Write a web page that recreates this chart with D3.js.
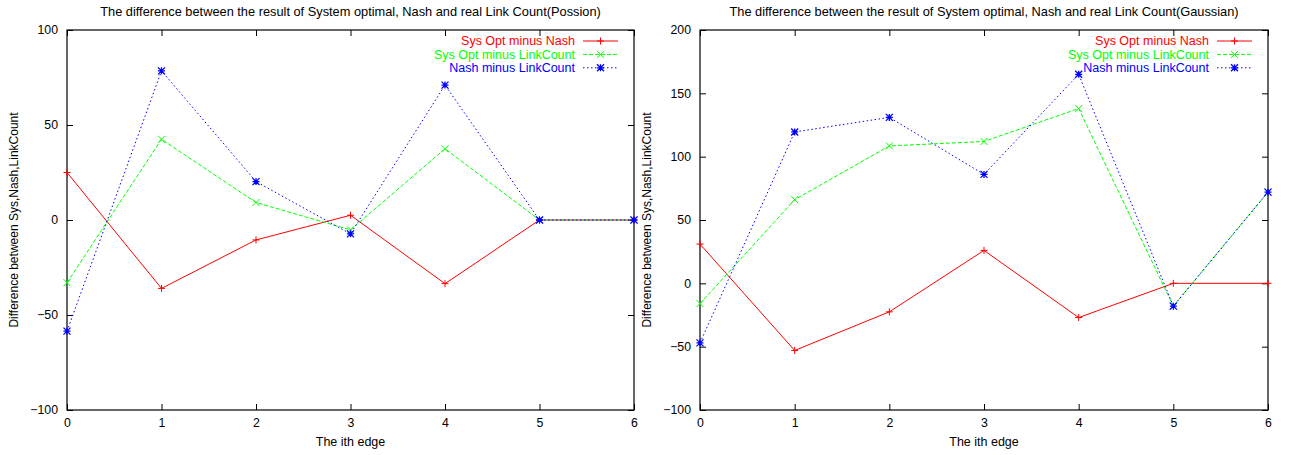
<!DOCTYPE html>
<html>
<head>
<meta charset="utf-8">
<script src="https://cdn.jsdelivr.net/npm/d3@7"></script>
<style>
  body { margin: 0; background: #fff; }
  svg { display: block; font-family: "Liberation Sans", Arial, sans-serif; }
</style>
</head>
<body>
<svg width="1293" height="455"></svg>
<script>
const edges = [0, 1, 2, 3, 4, 5, 6]
const seriesNames = ["Sys Opt minus Nash", "Sys Opt minus LinkCount", "Nash minus LinkCount"]

// Possion
const poisSysNash = [25, -36, -10.5, 2.5, -33.5, 0, 0]
const poisSysLink = [-33, 42.5, 9.2, -5.2, 37.5, 0, 0]
const poisNashLink = [-58.5, 78.5, 20.2, -7.3, 71, 0, 0]

// Gaussian
const gaussSysNash = [31, -53, -22.5, 26, -27, 0, 0]
const gaussSysLink = [-16, 66, 108.5, 112, 138, -18, 72]
const gaussNashLink = [-47, 119.5, 131, 86, 165, -18, 72]

const poisTicks = [-100, -50, 0, 50, 100]
const gaussTicks = [-100, -50, 0, 50, 100, 150, 200]

const styles = [
  { color: "#ff0000", dash: null, marker: "plus" },
  { color: "#00ff00", dash: "4,2", marker: "cross" },
  { color: "#0000ff", dash: "1.5,2.5", marker: "star" },
]

const svg = d3.select("svg")

function marker(g, kind, x, y, color) {
  const s = 3.5
  const p = d3.path()
  if (kind === "plus" || kind === "star") {
    p.moveTo(x - s, y); p.lineTo(x + s, y)
    p.moveTo(x, y - s); p.lineTo(x, y + s)
  }
  if (kind === "cross" || kind === "star") {
    p.moveTo(x - s, y - s); p.lineTo(x + s, y + s)
    p.moveTo(x - s, y + s); p.lineTo(x + s, y - s)
  }
  g.append("path").attr("d", p.toString())
    .attr("stroke", color).attr("stroke-width", kind === "star" ? 1.3 : 1).attr("fill", "none")
}

function drawPanel(opts) {
  const { left, right, top, bottom, yDomain, yTicks, series, title } = opts
  const g = svg.append("g")

  const x = d3.scaleLinear().domain([0, 6]).range([left, right])
  const y = d3.scaleLinear().domain(yDomain).range([bottom, top])

  // ticks inward, mirrored
  const yAxis = g.append("g").attr("transform", `translate(${left},0)`)
    .call(d3.axisLeft(y).tickValues(yTicks).tickSize(-6).tickPadding(9).tickFormat(d3.format("d")))
  const yAxisR = g.append("g").attr("transform", `translate(${right},0)`)
    .call(d3.axisRight(y).tickValues(yTicks).tickSize(-6).tickFormat(""))
  const xAxis = g.append("g").attr("transform", `translate(0,${bottom})`)
    .call(d3.axisBottom(x).tickValues(edges).tickSize(-6).tickPadding(8).tickFormat(d3.format("d")))
  const xAxisT = g.append("g").attr("transform", `translate(0,${top})`)
    .call(d3.axisTop(x).tickValues(edges).tickSize(-6).tickFormat(""))

  ;[yAxis, yAxisR, xAxis, xAxisT].forEach(a => {
    a.select(".domain").remove()
    a.selectAll("line").attr("stroke", "#000")
    a.selectAll("text").attr("font-size", 12.3).attr("fill", "#000")
      .attr("font-family", "Liberation Sans, Arial, sans-serif")
  })

  g.append("rect")
    .attr("x", left).attr("y", top)
    .attr("width", right - left).attr("height", bottom - top)
    .attr("fill", "none").attr("stroke", "#000").attr("stroke-width", 1.2)

  const line = d3.line().x((d, i) => x(edges[i])).y(d => y(d))

  series.forEach((vals, k) => {
    const st = styles[k]
    g.append("path").datum(vals)
      .attr("d", line)
      .attr("fill", "none")
      .attr("stroke", st.color)
      .attr("stroke-width", 1)
      .attr("stroke-dasharray", st.dash)
    vals.forEach((v, i) => marker(g, st.marker, x(edges[i]), y(v), st.color))
  })

  // legend
  const legX = right - 59
  seriesNames.forEach((name, k) => {
    const st = styles[k]
    const ly = top + 11 + k * 13.4
    g.append("text").attr("x", legX).attr("y", ly).attr("dy", "0.35em")
      .attr("text-anchor", "end").attr("font-size", 12.5).attr("fill", st.color)
      .text(name)
    g.append("line").attr("x1", right - 51).attr("x2", right - 16)
      .attr("y1", ly).attr("y2", ly)
      .attr("stroke", st.color).attr("stroke-width", 1)
      .attr("stroke-dasharray", st.dash)
    marker(g, st.marker, right - 33.5, ly, st.color)
  })

  const cx = (left + right) / 2
  g.append("text").attr("x", cx).attr("y", 16).attr("text-anchor", "middle")
    .attr("font-size", 12.8).text(title)
  g.append("text").attr("x", cx).attr("y", 446).attr("text-anchor", "middle")
    .attr("font-size", 12.5).text("The ith edge")
  g.append("text")
    .attr("transform", `translate(${left - 53},${(top + bottom) / 2}) rotate(-90)`)
    .attr("text-anchor", "middle").attr("dy", "0.35em")
    .attr("font-size", 12).text("Difference between Sys,Nash,LinkCount")
}

drawPanel({
  left: 67, right: 634, top: 30, bottom: 410,
  yDomain: [-100, 100], yTicks: poisTicks,
  series: [poisSysNash, poisSysLink, poisNashLink],
  title: "The difference between the result of System optimal, Nash and real Link Count(Possion)",
})

drawPanel({
  left: 700, right: 1268, top: 30, bottom: 410,
  yDomain: [-100, 200], yTicks: gaussTicks,
  series: [gaussSysNash, gaussSysLink, gaussNashLink],
  title: "The difference between the result of System optimal, Nash and real Link Count(Gaussian)",
})
</script>
</body>
</html>
